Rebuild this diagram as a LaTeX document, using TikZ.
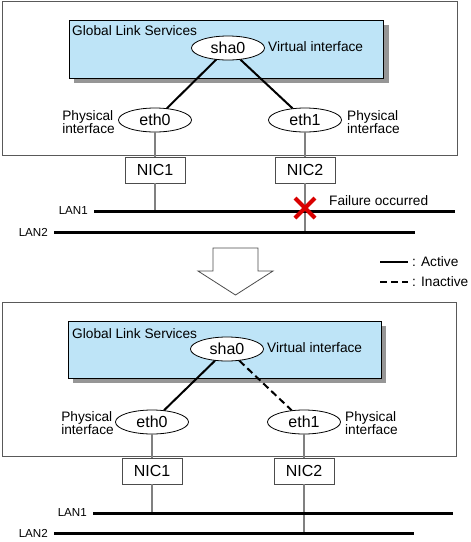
\documentclass[tikz,border=0pt]{standalone}
\usepackage{fontspec}
\setmainfont{Liberation Sans}
\usepackage{tikz}
\usetikzlibrary{calc,shapes.geometric,positioning}
\definecolor{glsblue}{RGB}{190,228,247}
\definecolor{shadowgray}{RGB}{150,150,150}
\tikzstyle{interface} = [ellipse, draw, fill=white, line width=0.8pt, text centered, inner sep=0pt, minimum width=73pt, minimum height=24pt, font=\fontsize{16}{18}\selectfont]
\tikzstyle{card} = [rectangle, draw=black!70, fill=white, line width=0.8pt, text centered, minimum width=60pt, minimum height=26pt, font=\fontsize{16}{18}\selectfont]
\tikzstyle{caption} = [inner sep=0pt, align=left, font=\fontsize{13.7}{13}\selectfont]
\tikzstyle{lanlabel} = [inner sep=0pt, anchor=east, font=\fontsize{11.6}{13}\selectfont]
\tikzstyle{frame} = [draw=black!65, line width=0.8pt]
\tikzstyle{glsbox} = [draw=black, fill=glsblue, line width=0.9pt]
\tikzstyle{active} = [line width=2pt]
\tikzstyle{inactive} = [line width=2pt, dash pattern=on 7pt off 4pt]
\tikzstyle{wire} = [draw=gray, line width=1.2pt]
\tikzstyle{lan} = [line width=3pt]

\begin{document}
\begin{tikzpicture}[x=1pt, y=-1pt]
        \useasboundingbox (0,0) rectangle (471,542);
        % before the failure
        \draw [frame] (2,1) rectangle (457,155);
        \fill [shadowgray] (74,25) rectangle (389,83);
        \draw [glsbox] (69,20) rectangle (383,78);
        \node (gls-top) [caption, anchor=west] at (72,31) {Global Link Services};
        \node (sha0-top) [interface] at (228,48) {sha0};
        \node (virt-top) [caption, anchor=west] at (268,47) {Virtual interface};
        \node (eth0-top) [interface] at (155,120) {eth0};
        \node (eth1-top) [interface] at (305,120) {eth1};
        \node (phys0-top) [caption, anchor=east] at (115,122) {Physical\\interface};
        \node (phys1-top) [caption, anchor=west] at (347,122) {Physical\\interface};
        \node (nic1-top) [card] at (155,170) {NIC1};
        \node (nic2-top) [card] at (305,170) {NIC2};
        \coordinate (lan1-top-w) at (94,211);
        \coordinate (lan1-top-e) at (455,211);
        \coordinate (lan2-top-w) at (54,232);
        \coordinate (lan2-top-e) at (415,232);
        \node (lan1-top) [lanlabel] at (88,211) {LAN1};
        \node (lan2-top) [lanlabel] at (48,232) {LAN2};
        \node (fail) [caption, anchor=west] at (329,201) {Failure occurred};
        \draw [active] (sha0-top) -- (eth0-top);
        \draw [active] (sha0-top) -- (eth1-top);
        \draw [wire] (eth0-top) -- (nic1-top);
        \draw [wire] (eth1-top) -- (nic2-top);
        \draw [wire] (nic1-top) -- (nic1-top |- lan1-top-w);
        \draw [wire] (nic2-top) -- (nic2-top |- lan2-top-w);
        \draw [lan] (lan1-top-w) -- (lan1-top-e);
        \draw [lan] (lan2-top-w) -- (lan2-top-e);
        \coordinate (cross) at (305,208);
        \draw [red!85!black, line width=4pt] ($(cross)+(-10,-10)$) -- ($(cross)+(10,10)$) ($(cross)+(-10,10)$) -- ($(cross)+(10,-10)$);
        % switch over
        \draw [draw=black!70, fill=white, line width=0.8pt] (213,248) -- (258,248) -- (258,271) -- (273,271) -- (235.5,295) -- (198,271) -- (213,271) -- cycle;
        \coordinate (key-a-w) at (380,262);
        \coordinate (key-a-e) at (408,262);
        \coordinate (key-i-w) at (380,282);
        \coordinate (key-i-e) at (408,282);
        \draw [active] (key-a-w) -- (key-a-e);
        \draw [inactive] (key-i-w) -- (key-i-e);
        \node (key-active) [caption, right=4pt of key-a-e] {: Active};
        \node (key-inactive) [caption, right=4pt of key-i-e] {: Inactive};
        % after the failure
        \draw [frame] (2,302) rectangle (456,456);
        \fill [shadowgray] (73,326) rectangle (386,383);
        \draw [glsbox] (68,321) rectangle (381,378);
        \node (gls-bot) [caption, anchor=west] at (72,334) {Global Link Services};
        \node (sha0-bot) [interface] at (227,349) {sha0};
        \node (virt-bot) [caption, anchor=west] at (267,348) {Virtual interface};
        \node (eth0-bot) [interface] at (152,422) {eth0};
        \node (eth1-bot) [interface] at (304,422) {eth1};
        \node (phys0-bot) [caption, anchor=east] at (114,423) {Physical\\interface};
        \node (phys1-bot) [caption, anchor=west] at (345,423) {Physical\\interface};
        \node (nic1-bot) [card] at (152,471) {NIC1};
        \node (nic2-bot) [card] at (304,471) {NIC2};
        \coordinate (lan1-bot-w) at (93,513);
        \coordinate (lan1-bot-e) at (453,513);
        \coordinate (lan2-bot-w) at (54,533);
        \coordinate (lan2-bot-e) at (414,533);
        \node (lan1-bot) [lanlabel] at (87,513) {LAN1};
        \node (lan2-bot) [lanlabel] at (48,533) {LAN2};
        \draw [active] (sha0-bot) -- (eth0-bot);
        \draw [inactive] (sha0-bot) -- (eth1-bot);
        \draw [wire] (eth0-bot) -- (nic1-bot);
        \draw [wire] (eth1-bot) -- (nic2-bot);
        \draw [wire] (nic1-bot) -- (nic1-bot |- lan1-bot-w);
        \draw [wire] (nic2-bot) -- (nic2-bot |- lan2-bot-w);
        \draw [lan] (lan1-bot-w) -- (lan1-bot-e);
        \draw [lan] (lan2-bot-w) -- (lan2-bot-e);
\end{tikzpicture}
\end{document}
